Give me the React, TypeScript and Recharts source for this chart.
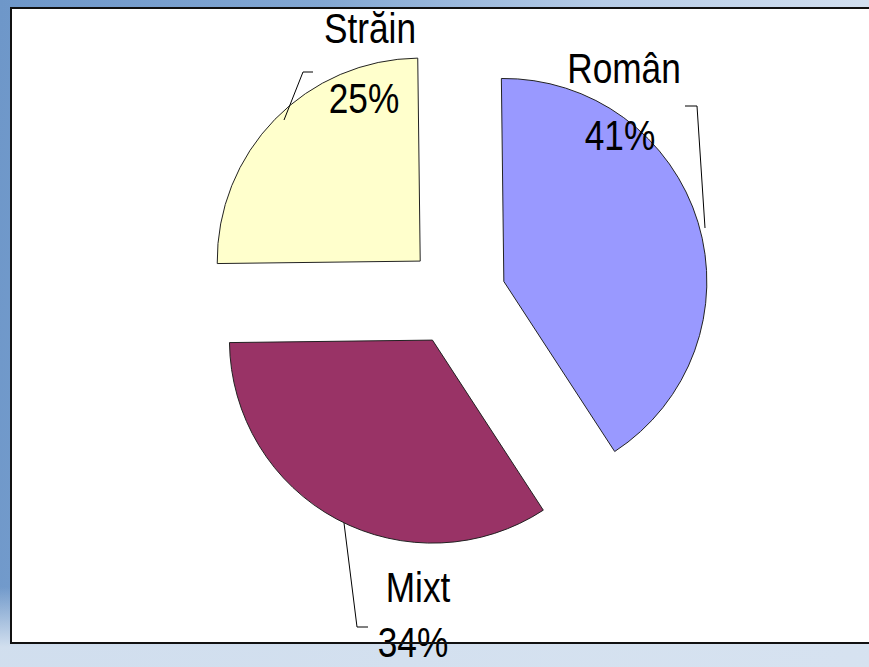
import { PieChart, Pie, Cell, Sector } from 'recharts'

const names = ['Român', 'Mixt', 'Străin']
const values = [41, 34, 25]
const colors = ['#9999FF', '#993366', '#FFFFCC']

const data = names.map((name, i) => ({ name, value: values[i] }))

const RAD = Math.PI / 180
const EXPLODE = 50

// label anchors and leader lines, relative to the pie centre
const LABEL_LAYOUT = [
  { x1: 168, y1: -213, x2: 164, y2: -146, leader: [[229, -190], [241, -190], [249, -68]] },
  { x1: -38, y1: 306, x2: -43, y2: 361, leader: [[-112, 227], [-99, 331], [-88, 331]] },
  { x1: -86, y1: -253, x2: -92, y2: -183, leader: [[-172, -176], [-153, -224], [-143, -224]] },
]

const FONT = "'Liberation Sans', Arial, sans-serif"
const SQUEEZE = 0.84

const ExplodedSector = (props: any) => {
  const { cx, cy, midAngle } = props
  const dx = EXPLODE * Math.cos(-midAngle * RAD)
  const dy = EXPLODE * Math.sin(-midAngle * RAD)
  return <Sector {...props} cx={cx + dx} cy={cy + dy} />
}

const NarrowText = ({ x, y, children }: any) => (
  <text
    transform={`translate(${x},${y}) scale(${SQUEEZE},1)`}
    textAnchor="middle"
    fontFamily={FONT}
    fontSize={42}
    fill="#000"
  >
    {children}
  </text>
)

const renderLabel = (props: any) => {
  const { cx, cy, index, percent, name } = props
  const l = LABEL_LAYOUT[index]
  const pts = l.leader.map(([x, y]) => `${cx + x},${cy + y}`).join(' ')
  return (
    <g key={`label-${index}`}>
      <polyline points={pts} fill="none" stroke="#000" strokeWidth={1} />
      <NarrowText x={cx + l.x1} y={cy + l.y1}>{name}</NarrowText>
      <NarrowText x={cx + l.x2} y={cy + l.y2}>{`${Math.round(percent * 100)}%`}</NarrowText>
    </g>
  )
}

export default function App() {
  return (
    <div
      style={{
        position: 'fixed',
        left: 0,
        top: 0,
        width: 869,
        height: 667,
        overflow: 'hidden',
        background:
          'linear-gradient(to bottom, rgba(214,226,240,0) 88%, rgba(214,226,240,0.95) 97%), linear-gradient(95deg, #6e97c9 0%, #82a7d3 35%, #b6cce7 65%, #d8e3f1 100%)',
      }}
    >
      <div
        style={{
          position: 'absolute',
          left: 10,
          top: 7,
          width: 880,
          height: 637,
          background: '#fff',
        }}
      />
      <div style={{ position: 'absolute', left: 0, top: 0 }}>
        <PieChart width={869} height={667}>
          <Pie
            data={data}
            dataKey="value"
            nameKey="name"
            cx={451}
            cy={291}
            outerRadius={203}
            startAngle={90.7}
            endAngle={-269.3}
            stroke="#222"
            strokeWidth={1}
            shape={ExplodedSector}
            label={renderLabel}
            labelLine={false}
            isAnimationActive={false}
          >
            {data.map((entry, index) => (
              <Cell key={`cell-${index}`} fill={colors[index]} />
            ))}
          </Pie>
        </PieChart>
      </div>
      <div
        style={{
          position: 'absolute',
          left: 10,
          top: 7,
          width: 880,
          height: 637,
          boxSizing: 'border-box',
          borderTop: '2px solid #111',
          borderLeft: '2px solid #111',
          borderBottom: '2px solid #111',
          pointerEvents: 'none',
        }}
      />
    </div>
  )
}
